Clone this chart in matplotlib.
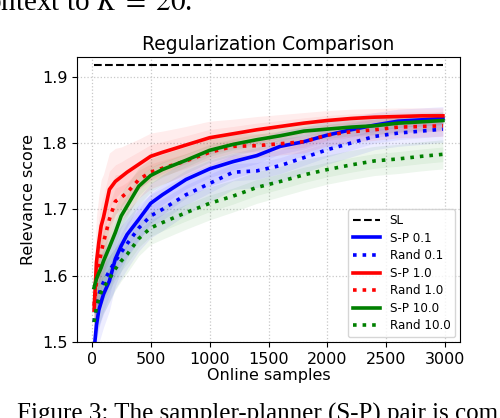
import matplotlib
matplotlib.use('Agg')
import matplotlib.pyplot as plt
import numpy as np

# online samples
samples = [20, 40, 60, 80, 100, 150, 200, 250, 300, 400, 500, 600, 800,
           1000, 1200, 1400, 1600, 1800, 2000, 2200, 2400, 2600, 2800, 2980]

sl_score = 1.918

sp_01 = [1.488, 1.525, 1.548, 1.560, 1.572, 1.592, 1.625, 1.645, 1.662, 1.685,
         1.709, 1.722, 1.745, 1.761, 1.772, 1.781, 1.795, 1.802, 1.812, 1.820,
         1.827, 1.833, 1.835, 1.837]
rand_01 = [1.530, 1.555, 1.570, 1.582, 1.590, 1.607, 1.622, 1.635, 1.648, 1.672,
           1.690, 1.700, 1.722, 1.739, 1.756, 1.758, 1.766, 1.778, 1.790, 1.800,
           1.810, 1.815, 1.818, 1.821]
sp_1 = [1.548, 1.620, 1.650, 1.675, 1.688, 1.730, 1.742, 1.749, 1.756, 1.768,
        1.780, 1.786, 1.797, 1.808, 1.814, 1.820, 1.825, 1.830, 1.834, 1.837,
        1.839, 1.840, 1.841, 1.841]
rand_1 = [1.555, 1.590, 1.615, 1.635, 1.650, 1.685, 1.712, 1.718, 1.725, 1.745,
          1.756, 1.762, 1.773, 1.786, 1.795, 1.796, 1.799, 1.802, 1.812, 1.817,
          1.820, 1.824, 1.825, 1.826]
sp_10 = [1.582, 1.595, 1.604, 1.612, 1.622, 1.643, 1.665, 1.690, 1.705, 1.735,
         1.751, 1.760, 1.774, 1.789, 1.798, 1.805, 1.811, 1.818, 1.821, 1.824,
         1.826, 1.830, 1.832, 1.834]
rand_10 = [1.530, 1.552, 1.565, 1.575, 1.582, 1.595, 1.610, 1.622, 1.632, 1.656,
           1.672, 1.680, 1.695, 1.709, 1.720, 1.733, 1.742, 1.752, 1.760, 1.767,
           1.773, 1.776, 1.780, 1.783]

# spread around each curve
sd_sp_01 = [0.05, 0.05, 0.05, 0.05, 0.05, 0.045, 0.04, 0.038, 0.035, 0.032,
            0.03, 0.03, 0.028, 0.026, 0.025, 0.024, 0.023, 0.022, 0.021, 0.02,
            0.019, 0.018, 0.018, 0.018]
sd_rand_01 = [0.05, 0.05, 0.05, 0.05, 0.048, 0.045, 0.042, 0.04, 0.038, 0.035,
              0.033, 0.032, 0.03, 0.028, 0.026, 0.025, 0.024, 0.023, 0.022, 0.021,
              0.02, 0.02, 0.02, 0.02]
sd_sp_1 = [0.06, 0.07, 0.07, 0.07, 0.065, 0.055, 0.05, 0.045, 0.042, 0.038,
           0.035, 0.032, 0.028, 0.025, 0.022, 0.02, 0.018, 0.016, 0.015, 0.014,
           0.013, 0.013, 0.012, 0.012]
sd_rand_1 = [0.05, 0.055, 0.055, 0.055, 0.05, 0.045, 0.04, 0.035, 0.032, 0.028,
             0.025, 0.024, 0.022, 0.02, 0.019, 0.018, 0.017, 0.017, 0.016, 0.016,
             0.016, 0.016, 0.016, 0.016]
sd_sp_10 = [0.04, 0.045, 0.045, 0.045, 0.045, 0.04, 0.038, 0.035, 0.032, 0.028,
            0.025, 0.023, 0.02, 0.018, 0.017, 0.016, 0.015, 0.014, 0.014, 0.013,
            0.013, 0.013, 0.013, 0.013]
sd_rand_10 = [0.04, 0.04, 0.04, 0.04, 0.038, 0.035, 0.032, 0.03, 0.028, 0.026,
              0.025, 0.025, 0.025, 0.025, 0.024, 0.024, 0.023, 0.023, 0.022, 0.022,
              0.022, 0.022, 0.022, 0.022]

series = [
    ('S-P 0.1', sp_01, sd_sp_01, 'blue', '-'),
    ('Rand 0.1', rand_01, sd_rand_01, 'blue', ':'),
    ('S-P 1.0', sp_1, sd_sp_1, 'red', '-'),
    ('Rand 1.0', rand_1, sd_rand_1, 'red', ':'),
    ('S-P 10.0', sp_10, sd_sp_10, 'green', '-'),
    ('Rand 10.0', rand_10, sd_rand_10, 'green', ':'),
]

fig = plt.figure(figsize=(5, 4.18), dpi=100)
ax = fig.add_axes([0.154, 0.182, 0.766, 0.682])

x = np.array(samples)
ax.plot([samples[0], samples[-1]], [sl_score, sl_score], 'k--', lw=1.5, label='SL')

for name, vals, sd, col, ls in series:
    v = np.array(vals)
    s = np.array(sd)
    ax.fill_between(x, v - s, v + s, color=col, alpha=0.07, lw=0)
    ax.fill_between(x, v - s / 2, v + s / 2, color=col, alpha=0.06, lw=0)
for name, vals, sd, col, ls in series:
    ax.plot(x, vals, color=col, ls=ls, lw=2.6, label=name)

ax.set_xlim(-125, 3125)
ax.set_ylim(1.5, 1.93)
ax.set_yticks([1.5, 1.6, 1.7, 1.8, 1.9])
ax.set_xticks([0, 500, 1000, 1500, 2000, 2500, 3000])
ax.tick_params(labelsize=11.5)
ax.grid(True, ls=':', color='#c8c8c8', lw=0.9)
ax.set_axisbelow(True)

ax.set_title('Regularization Comparison', fontsize=13.5, pad=5)
ax.set_xlabel('Online samples', fontsize=11.5, labelpad=1)
ax.set_ylabel('Relevance score', fontsize=11.5)
ax.legend(loc='lower right', fontsize=8.6, handlelength=2.3, labelspacing=0.38,
          borderaxespad=0.4)

# caption fragments of the page
fig.text(192 / 500, 1 - 9.5 / 418, r'ontext to $K\;=\;20$.', ha='right',
         va='baseline', fontsize=21, family='Liberation Serif',
         math_fontfamily='stix')
fig.text(17 / 500, -3 / 418, 'Figure 3: The sampler-planner (S-P) pair is com',
         ha='left', va='baseline', fontsize=18, family='Liberation Serif')

fig.savefig('out.png', dpi=100)
